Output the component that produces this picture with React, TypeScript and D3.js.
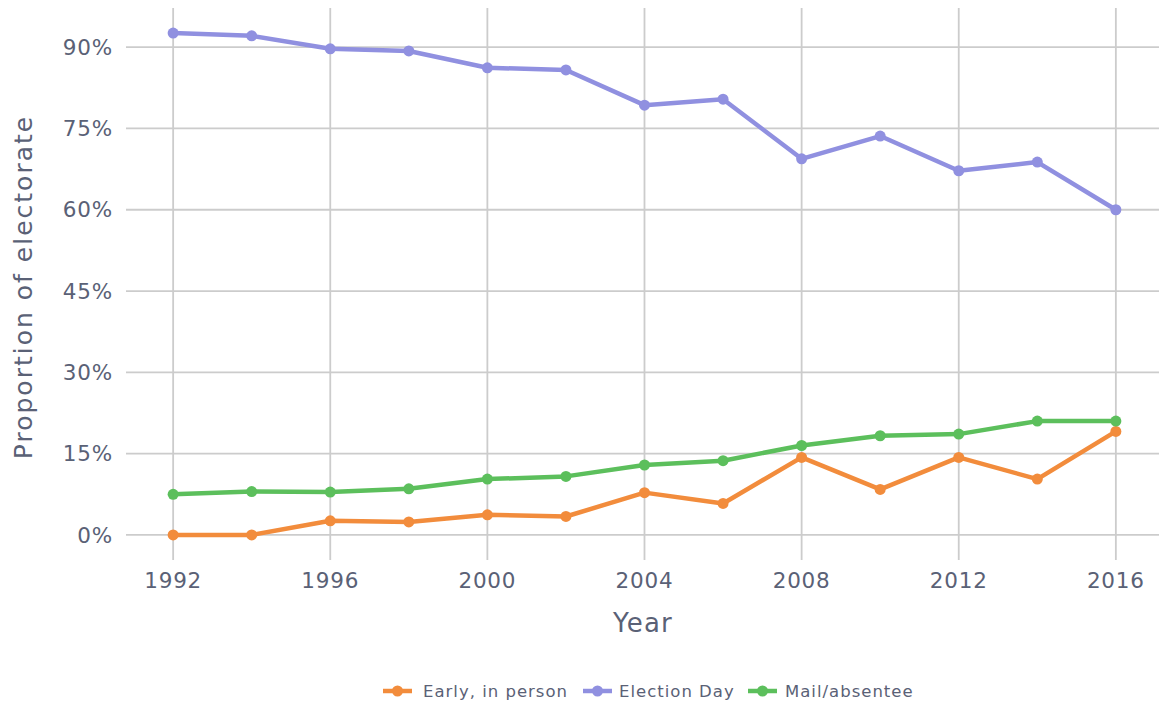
import * as d3 from "d3";

const years = [1992, 1994, 1996, 1998, 2000, 2002, 2004, 2006, 2008, 2010, 2012, 2014, 2016];
const earlyInPerson = [0, 0, 2.6, 2.4, 3.7, 3.4, 7.8, 5.8, 14.3, 8.4, 14.3, 10.3, 19.1];
const electionDay = [92.6, 92.1, 89.7, 89.3, 86.2, 85.8, 79.3, 80.4, 69.4, 73.6, 67.2, 68.8, 60.0];
const mailAbsentee = [7.5, 8.0, 7.9, 8.5, 10.3, 10.8, 12.9, 13.7, 16.5, 18.3, 18.6, 21.0, 21.0];
const xTicks = [1992, 1996, 2000, 2004, 2008, 2012, 2016];
const yTicks = [0, 15, 30, 45, 60, 75, 90];

const series = [
  { name: "Early, in person", values: earlyInPerson, color: "#f28c3c" },
  { name: "Election Day", values: electionDay, color: "#9090e0" },
  { name: "Mail/absentee", values: mailAbsentee, color: "#5cbf5c" },
];

const W = 1159;
const H = 704;
const font = "'DejaVu Sans', sans-serif";
const textColor = "#5a6176";

export default function App() {
  // ggplot-style 5% expansion
  const x = d3.scaleLinear().domain([1990.8, 2017.2]).range([126, 1163]);
  const y = d3.scaleLinear().domain([-4.63, 97.23]).range([560, 8]);

  const line = d3
    .line<number>()
    .x((_, i) => x(years[i]))
    .y((d) => y(d));

  // legend layout
  const legend = [
    { key: 383, text: 423 },
    { key: 583, text: 619 },
    { key: 748, text: 785 },
  ];

  return (
    <svg width={W} height={H} style={{ position: "absolute", left: 0, top: 0 }}>
      <rect width={W} height={H} fill="#fff" />
      <g stroke="#cccccc" strokeWidth={1.8}>
        {yTicks.map((t) => (
          <line key={"h" + t} x1={126} x2={W} y1={y(t)} y2={y(t)} />
        ))}
        {xTicks.map((t) => (
          <line key={"v" + t} x1={x(t)} x2={x(t)} y1={8} y2={560} />
        ))}
      </g>
      {series.map((s) => (
        <g key={s.name}>
          <path d={line(s.values) || ""} fill="none" stroke={s.color} strokeWidth={4.5} strokeLinejoin="round" />
          {s.values.map((v, i) => (
            <circle key={i} cx={x(years[i])} cy={y(v)} r={5.5} fill={s.color} />
          ))}
        </g>
      ))}
      <g fontFamily={font} fill={textColor} fontSize={21.5} letterSpacing={0.8}>
        {yTicks.map((t) => (
          <text key={"yt" + t} x={113} y={y(t)} dy="0.36em" textAnchor="end">
            {t}%
          </text>
        ))}
        {xTicks.map((t) => (
          <text key={"xt" + t} x={x(t)} y={588} textAnchor="middle">
            {t}
          </text>
        ))}
      </g>
      <text x={643} y={632} textAnchor="middle" fontFamily={font} fontSize={26} letterSpacing={1.2} fill={textColor}>
        Year
      </text>
      <text
        transform={`translate(32, 287) rotate(-90)`}
        textAnchor="middle"
        fontFamily={font}
        fontSize={25}
        letterSpacing={2}
        fill={textColor}
      >
        Proportion of electorate
      </text>
      <g fontFamily={font} fontSize={16.5} letterSpacing={1} fill={textColor}>
        {series.map((s, i) => (
          <g key={s.name}>
            <line x1={legend[i].key} x2={legend[i].key + 29} y1={691} y2={691} stroke={s.color} strokeWidth={4.5} />
            <circle cx={legend[i].key + 14.5} cy={691} r={5.5} fill={s.color} />
            <text x={legend[i].text} y={691} dy="0.36em">
              {s.name}
            </text>
          </g>
        ))}
      </g>
    </svg>
  );
}
